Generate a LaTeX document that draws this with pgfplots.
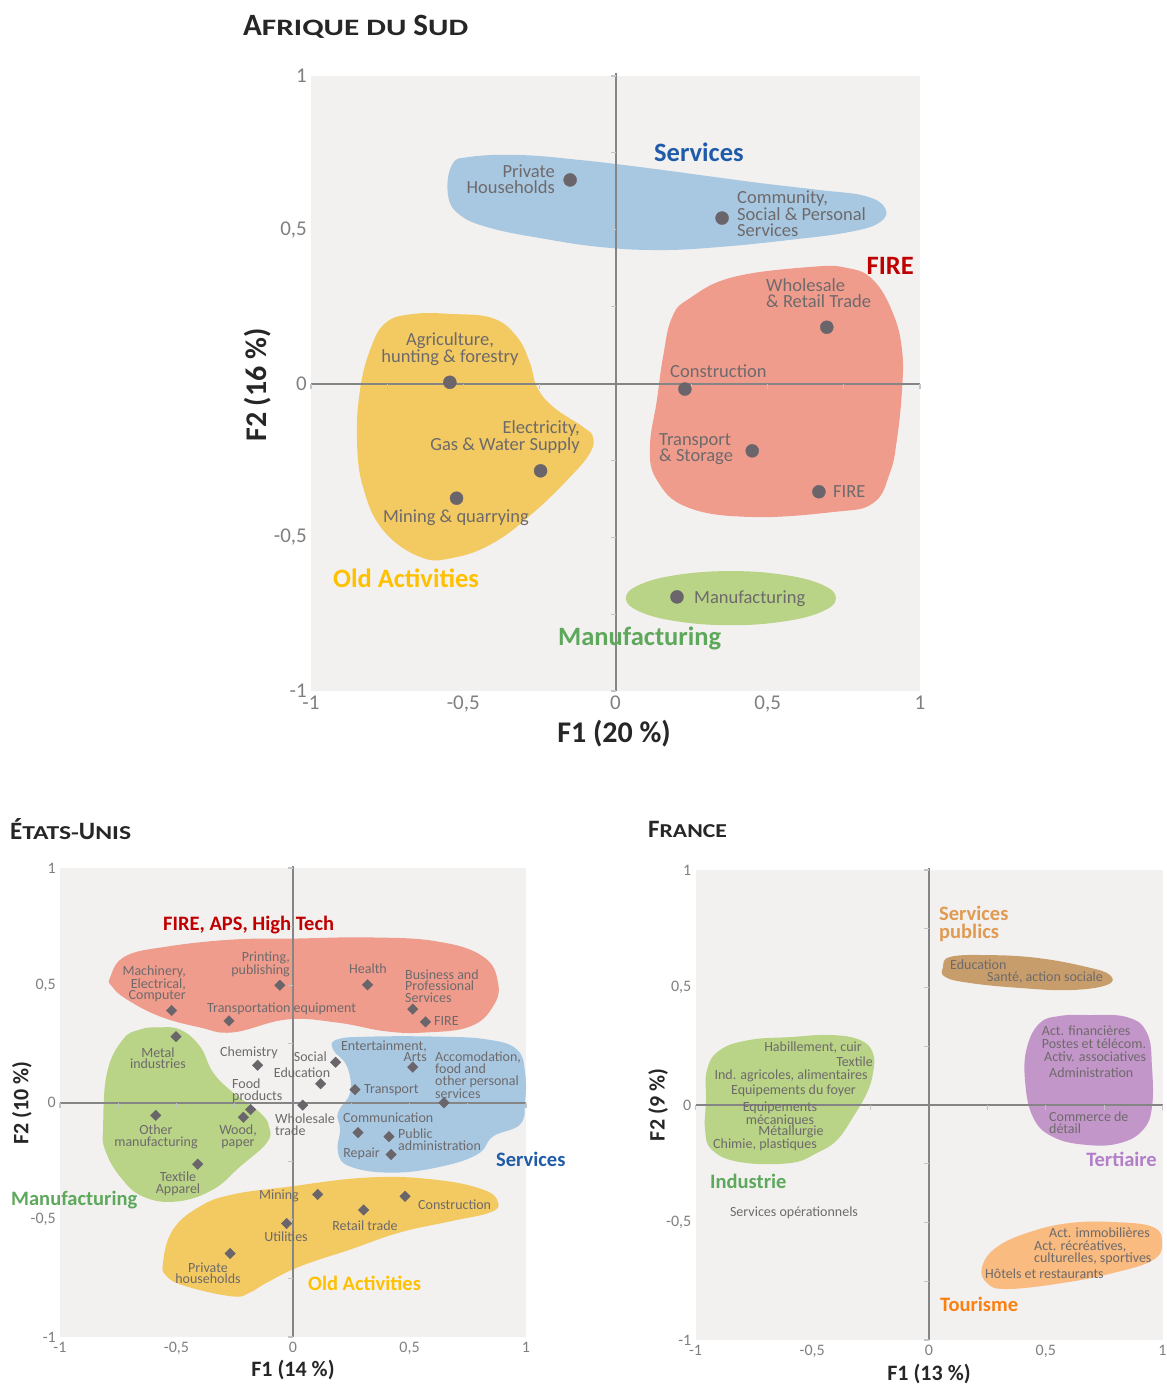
\documentclass[border=0pt]{standalone}
\usepackage{fontspec}
\setmainfont{Carlito}
\usepackage{graphicx}
\usepackage{pgfplots}
\pgfplotsset{compat=1.18}

\definecolor{bg}{HTML}{F2F1F0}
\definecolor{axln}{HTML}{858585}
\definecolor{tk}{HTML}{C4C4C4}
\definecolor{lbl}{HTML}{6E6A6B}
\definecolor{dotc}{HTML}{69656A}
\definecolor{ticklbl}{HTML}{7F7F7F}
\definecolor{blobblue}{HTML}{A8C8E2}
\definecolor{blobred}{HTML}{F09C8D}
\definecolor{blobyel}{HTML}{F3C961}
\definecolor{blobgrn}{HTML}{B9D387}
\definecolor{blobtan}{HTML}{C89D6C}
\definecolor{blobpur}{HTML}{C396CA}
\definecolor{bloborg}{HTML}{F9BB80}
\definecolor{tblue}{HTML}{1F5BA8}
\definecolor{tred}{HTML}{C00000}
\definecolor{tyel}{HTML}{FFC000}
\definecolor{tgrn}{HTML}{5EA85C}
\definecolor{ttan}{HTML}{E09A52}
\definecolor{tpur}{HTML}{B27FC8}
\definecolor{torg}{HTML}{F98012}
\definecolor{ttl}{HTML}{262626}

\newcommand\lza{\fontsize{18.5}{16.5}\selectfont}
\newcommand\lsm{\fontsize{14}{11.5}\selectfont}
\newcommand\gza{\fontsize{26.5}{26.5}\bfseries\selectfont}
\newcommand\gsm{\fontsize{20.5}{18}\bfseries\selectfont}
% faux small caps: scale, size, text
\newcommand\scp[3]{\scalebox{#1}[1]{\fontsize{#2}{#2}\selectfont #3}}

\pgfplotsset{
  pca/.style={
    scale only axis, anchor=south west,
    xmin=-1, xmax=1, ymin=-1, ymax=1, clip=false,
    axis line style={draw=none}, tick style={draw=none}, major tick length=0pt,
    axis background/.style={fill=bg},
    xtick={-1,-0.5,0,0.5,1}, ytick={-1,-0.5,0,0.5,1},
    xticklabels={-1,{-0,5},0,{0,5},1},
    yticklabels={-1,{-0,5},0,{0,5},1},
    tick label style={text=ticklbl, inner sep=0pt},
    xticklabel style={anchor=north},
    yticklabel style={anchor=east},
  },
  blob/.style={draw=none, fill=#1, smooth cycle, tension=0.7, no markers},
  midline/.style={axln, line width=2pt, no markers},
}

\newcommand\midaxes{%
  \addplot[midline] coordinates {(-1,0) (1,0)};
  \addplot[midline] coordinates {(0,-1) (0,1.01)};
  \pgfplotsinvokeforeach{-1,-0.75,-0.5,-0.25,0.25,0.5,0.75,1}{
    \draw[tk, line width=1.2pt] (axis cs:##1,0) -- ++(0pt,-5pt);
    \draw[tk, line width=1.2pt] (axis cs:0,##1) -- ++(-5pt,0pt);
  }%
}

\begin{document}
\begin{tikzpicture}
\useasboundingbox (0pt,0pt) rectangle (1167pt,-1385pt);

% ---------------- Afrique du Sud
\begin{axis}[pca, at={(311pt,-691pt)}, width=609pt, height=615pt,
  tick label style={font=\fontsize{21}{21}\selectfont},
  xticklabel style={yshift=-5pt}, yticklabel style={xshift=-4pt}]
\addplot[blob=blobblue] coordinates {(-0.117,0.727) (0.080,0.704) (0.277,0.678) (0.474,0.652) (0.672,0.629) (0.819,0.610) (0.885,0.571) (0.869,0.525) (0.770,0.493) (0.573,0.467) (0.343,0.444) (0.146,0.434) (-0.051,0.444) (-0.248,0.473) (-0.412,0.506) (-0.511,0.548) (-0.550,0.613) (-0.537,0.711) (-0.478,0.737) (-0.314,0.743)};
\addplot[blob=blobred] coordinates {(0.639,0.379) (0.760,0.376) (0.846,0.337) (0.911,0.229) (0.941,0.109) (0.941,-0.021) (0.924,-0.184) (0.901,-0.291) (0.846,-0.389) (0.714,-0.418) (0.442,-0.434) (0.235,-0.402) (0.136,-0.314) (0.113,-0.207) (0.136,-0.054) (0.156,0.086) (0.186,0.216) (0.245,0.278) (0.386,0.346)};
\addplot[blob=blobyel] coordinates {(-0.534,0.226) (-0.402,0.212) (-0.323,0.151) (-0.281,0.067) (-0.258,-0.011) (-0.205,-0.076) (-0.107,-0.141) (-0.074,-0.174) (-0.084,-0.226) (-0.149,-0.304) (-0.271,-0.421) (-0.402,-0.519) (-0.534,-0.567) (-0.642,-0.564) (-0.764,-0.476) (-0.829,-0.337) (-0.849,-0.184) (-0.839,-0.021) (-0.806,0.109) (-0.755,0.197) (-0.665,0.226)};
\addplot[blob=blobgrn] coordinates {(0.379,-0.610) (0.206,-0.622) (0.080,-0.654) (0.034,-0.698) (0.080,-0.742) (0.206,-0.774) (0.379,-0.786) (0.551,-0.774) (0.678,-0.742) (0.724,-0.698) (0.678,-0.654) (0.551,-0.622)};
\midaxes
\addplot[only marks, mark=*, mark size=6.5pt, color=dotc] coordinates {
  (-0.149,0.662) (0.350,0.538) (0.694,0.183) (0.228,-0.018) (0.449,-0.219)
  (0.668,-0.352) (-0.544,0.004) (-0.246,-0.284) (-0.522,-0.373) (0.202,-0.694)};
\end{axis}

% ---------------- Etats-Unis
\begin{axis}[pca, at={(60pt,-1337pt)}, width=466pt, height=469pt,
  tick label style={font=\fontsize{16}{16}\selectfont},
  xticklabel style={yshift=-5pt}, yticklabel style={xshift=-4pt}]
\addplot[blob=blobred] coordinates {(0,0.699) (0.330,0.704) (0.618,0.687) (0.815,0.623) (0.880,0.512) (0.858,0.409) (0.760,0.324) (0.575,0.299) (0.403,0.303) (0.189,0.341) (-0.026,0.354) (-0.258,0.299) (-0.399,0.320) (-0.571,0.367) (-0.712,0.439) (-0.777,0.495) (-0.785,0.533) (-0.721,0.623) (-0.541,0.665) (-0.258,0.695)};
\addplot[blob=blobgrn] coordinates {(-0.584,0.320) (-0.485,0.311) (-0.399,0.239) (-0.343,0.128) (-0.258,0.043) (-0.142,-0.043) (-0.103,-0.102) (-0.112,-0.171) (-0.227,-0.273) (-0.343,-0.371) (-0.498,-0.422) (-0.644,-0.401) (-0.742,-0.316) (-0.807,-0.200) (-0.815,-0.102) (-0.798,0.128) (-0.730,0.269) (-0.657,0.311)};
\addplot[blob=blobblue] coordinates {(0.330,0.281) (0.618,0.281) (0.833,0.269) (0.961,0.226) (0.996,0.128) (0.996,0) (0.974,-0.094) (0.858,-0.145) (0.790,-0.222) (0.618,-0.277) (0.416,-0.299) (0.245,-0.273) (0.193,-0.213) (0.202,-0.115) (0.193,-0.043) (0.245,0.043) (0.232,0.154) (0.172,0.226) (0.189,0.269)};
\addplot[blob=blobyel] coordinates {(0.318,-0.320) (0.601,-0.328) (0.815,-0.371) (0.880,-0.426) (0.845,-0.469) (0.674,-0.507) (0.459,-0.554) (0.245,-0.627) (0.030,-0.699) (-0.112,-0.768) (-0.185,-0.810) (-0.258,-0.827) (-0.455,-0.785) (-0.541,-0.742) (-0.558,-0.682) (-0.515,-0.542) (-0.399,-0.443) (-0.258,-0.392) (-0.026,-0.360)};
\midaxes
\addplot[only marks, mark=square*, mark size=3.7pt, mark options={rotate=45}, color=dotc] coordinates {
  (-0.521,0.392) (-0.056,0.500) (-0.275,0.348) (-0.502,0.281) (-0.152,0.159)
  (-0.182,-0.030) (-0.589,-0.055) (-0.213,-0.063) (0.320,0.502) (0.514,0.398)
  (0.569,0.344) (0.183,0.172) (0.514,0.151) (0.119,0.080) (0.266,0.055)
  (0.042,-0.011) (0.648,-0.001) (0.279,-0.128) (0.412,-0.145) (0.421,-0.222)
  (-0.409,-0.263) (-0.270,-0.644) (-0.027,-0.516) (0.106,-0.392) (0.481,-0.400)
  (0.303,-0.458)};
\end{axis}

% ---------------- France
\begin{axis}[pca, at={(695.5pt,-1340pt)}, width=467pt, height=470pt,
  tick label style={font=\fontsize{16}{16}\selectfont},
  xticklabel style={yshift=-5pt}, yticklabel style={xshift=-4pt}]
\addplot[blob=blobgrn] coordinates {(-0.595,0.289) (-0.424,0.298) (-0.296,0.277) (-0.240,0.221) (-0.240,0.136) (-0.266,0.051) (-0.325,-0.051) (-0.394,-0.149) (-0.480,-0.204) (-0.595,-0.247) (-0.809,-0.243) (-0.929,-0.191) (-0.959,-0.106) (-0.955,0.021) (-0.951,0.149) (-0.895,0.234) (-0.767,0.277)};
\addplot[blob=blobtan] coordinates {(0.248,0.638) (0.463,0.626) (0.677,0.587) (0.775,0.553) (0.762,0.511) (0.604,0.489) (0.390,0.498) (0.176,0.519) (0.069,0.545) (0.060,0.587) (0.090,0.630)};
\addplot[blob=blobpur] coordinates {(0.677,0.383) (0.848,0.374) (0.934,0.306) (0.955,0.162) (0.955,-0.009) (0.916,-0.106) (0.818,-0.162) (0.677,-0.170) (0.531,-0.136) (0.445,-0.051) (0.411,0.106) (0.420,0.247) (0.475,0.349) (0.561,0.379)};
\addplot[blob=bloborg] coordinates {(0.604,-0.502) (0.788,-0.498) (0.959,-0.519) (0.998,-0.587) (0.959,-0.660) (0.788,-0.715) (0.574,-0.757) (0.334,-0.783) (0.248,-0.757) (0.227,-0.689) (0.291,-0.604) (0.433,-0.540)};
\midaxes
\end{axis}

% ---------------- texts, in pixel units of the reference
\begin{scope}[x=1pt, y=-1pt, every node/.style={inner sep=0pt}]
% titles
\node[anchor=west, text=ttl, font=\bfseries] at (243,27)
  {\fontsize{31}{31}\selectfont A\scp{1.33}{23.5}{FRIQUE} \scp{1.33}{23.5}{DU} S\scp{1.33}{23.5}{UD}};
\node[anchor=west, text=ttl, font=\bfseries] at (10,829)
  {\fontsize{25}{25}\selectfont É\scp{1.3}{19.7}{TATS-}U\scp{1.3}{19.7}{NIS}};
\node[anchor=west, text=ttl, font=\bfseries] at (648,829)
  {\fontsize{25}{25}\selectfont F\scp{1.2}{19.7}{RANCE}};

% Afrique du Sud
\begin{scope}[every node/.append style={text=lbl, font=\lza}]
\node[anchor=east, align=right] at (555,179) {Private\\Households};
\node[anchor=west, align=left] at (737,214) {Community,\\Social \& Personal\\Services};
\node[anchor=west, align=left] at (766,293) {Wholesale\\\& Retail Trade};
\node[anchor=west] at (670,371) {Construction};
\node[anchor=west, align=left] at (659,449) {Transport\\\& Storage};
\node[anchor=west] at (833,492) {FIRE};
\node[align=center] at (450,349) {Agriculture,\\hunting \& forestry};
\node[anchor=east, align=right] at (580,437) {Electricity,\\Gas \& Water Supply};
\node at (456,518) {Mining \& quarrying};
\node[anchor=west] at (694,599) {Manufacturing};
\end{scope}
\node[anchor=west, text=tblue, font=\gza] at (654,152) {Services};
\node[anchor=east, text=tred, font=\gza] at (914,266) {FIRE};
\node[anchor=west, text=tyel, font=\gza] at (333,578) {Old Activities};
\node[anchor=west, text=tgrn, font=\gza] at (558,638) {Manufacturing};
\node[rotate=90, text=ttl, font=\fontsize{30}{30}\bfseries\selectfont] at (258,385) {F2 (16 \%)};
\node[text=ttl, font=\fontsize{30}{30}\bfseries\selectfont] at (614,734) {F1 (20 \%)};

% Etats-Unis
\begin{scope}[every node/.append style={text=lbl, font=\lsm}]
\node[anchor=east, align=right] at (186,984) {Machinery,\\Electrical,\\Computer};
\node[anchor=east, align=right] at (290,964) {Printing,\\publishing};
\node[anchor=west] at (207,1009) {Transportation equipment};
\node[align=center] at (158,1058) {Metal\\industries};
\node[anchor=west] at (220,1053) {Chemistry};
\node[anchor=west, align=left] at (232,1091) {Food\\products};
\node[align=center] at (156,1137) {Other\\manufacturing};
\node[align=center] at (238,1137) {Wood,\\paper};
\node[align=center] at (178,1184) {Textile\\Apparel};
\node[align=center] at (208,1273) {Private\\households};
\node at (286,1237) {Utilities};
\node[anchor=east] at (299,1196) {Mining};
\node at (365,1226) {Retail trade};
\node[anchor=west] at (418,1205) {Construction};
\node at (368,969) {Health};
\node[anchor=west, align=left] at (405,986) {Business and\\Professional\\Services};
\node[anchor=west] at (434,1021) {FIRE};
\node[anchor=east, align=right] at (427,1051) {Entertainment,\\Arts};
\node[anchor=east] at (327,1057) {Social};
\node at (302,1073) {Education};
\node[anchor=west] at (364,1090) {Transport};
\node[anchor=west, align=left] at (435,1075) {Accomodation,\\food and\\other personal\\services};
\node[anchor=west, align=left] at (275,1124.5) {Wholesale\\trade};
\node[anchor=west] at (343,1118) {Communication};
\node[anchor=west, align=left] at (398,1139.5) {Public\\administration};
\node[anchor=east] at (380,1154) {Repair};
\end{scope}
\node[anchor=west, text=tred, font=\gsm] at (163,925) {FIRE, APS, High Tech};
\node[anchor=west, text=tgrn, font=\gsm] at (11,1200) {Manufacturing};
\node[anchor=west, text=tblue, font=\gsm] at (496,1159) {Services};
\node[anchor=west, text=tyel, font=\gsm] at (308,1283) {Old Activities};
\node[rotate=90, text=ttl, font=\fontsize{22}{22}\bfseries\selectfont] at (22,1103) {F2 (10 \%)};
\node[text=ttl, font=\fontsize{22}{22}\bfseries\selectfont] at (293,1370) {F1 (14 \%)};

% France
\begin{scope}[every node/.append style={text=lbl, font=\lsm}]
\node at (813,1048) {Habillement, cuir};
\node[anchor=east] at (873,1062) {Textile};
\node at (791,1076) {Ind. agricoles, alimentaires};
\node at (793.5,1091) {Equipements du foyer};
\node[align=center] at (780,1114) {Equipements\\mécaniques};
\node at (791,1132) {Métallurgie};
\node at (765,1145) {Chimie, plastiques};
\node at (794,1213) {Services opérationnels};
\node[anchor=west] at (950,965) {Education};
\node[anchor=west] at (987,978) {Santé, action sociale};
\node[anchor=west] at (1041.7,1031) {Act. financières};
\node[anchor=west] at (1041.7,1044) {Postes et télécom.};
\node[anchor=west] at (1044,1057) {Activ. associatives};
\node[anchor=west] at (1049,1073) {Administration};
\node[anchor=west, align=left] at (1049,1122.5) {Commerce de\\détail};
\node[anchor=west] at (1049,1233) {Act. immobilières};
\node[anchor=west, align=left] at (1034,1253) {Act. récréatives,\\culturelles, sportives};
\node[anchor=west] at (985,1274) {Hôtels et restaurants};
\end{scope}
\node[anchor=west, align=left, text=ttan, font=\gsm] at (939,923.5) {Services\\publics};
\node[anchor=east, text=tpur, font=\gsm] at (1157,1159) {Tertiaire};
\node[anchor=west, text=tgrn, font=\gsm] at (710,1181) {Industrie};
\node[anchor=west, text=torg, font=\gsm] at (940,1304) {Tourisme};
\node[rotate=90, text=ttl, font=\fontsize{22}{22}\bfseries\selectfont] at (658,1105) {F2 (9 \%)};
\node[text=ttl, font=\fontsize{22}{22}\bfseries\selectfont] at (929,1374) {F1 (13 \%)};
\end{scope}
\end{tikzpicture}
\end{document}
